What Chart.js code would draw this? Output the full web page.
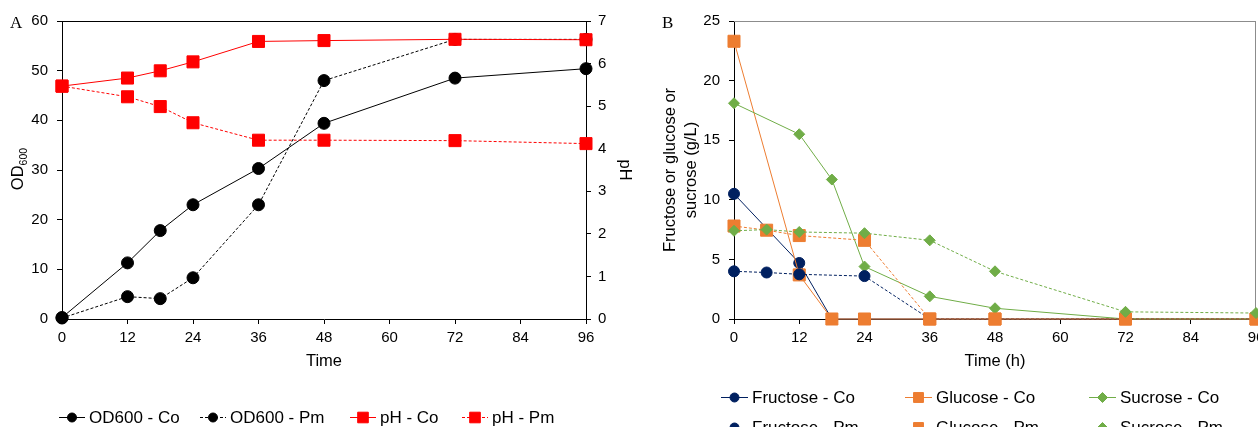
<!DOCTYPE html>
<html>
<head>
<meta charset="utf-8">
<script src="https://cdn.jsdelivr.net/npm/chart.js@4.4.1/dist/chart.umd.min.js"></script>
<style>
  html, body { margin: 0; padding: 0; background: #fff; overflow: hidden; width: 1258px; height: 427px; }
  canvas { position: absolute; top: 0; }
</style>
</head>
<body>
<canvas id="chartA" width="640" height="427" style="left:0"></canvas>
<canvas id="chartB" width="640" height="427" style="left:640px"></canvas>
<script>
// panel A: growth and pH
const timesA = [0, 12, 18, 24, 36, 48, 72, 96];
const odCo = [0.3, 11.3, 17.8, 23.0, 30.3, 39.4, 48.5, 50.4];
const odPm = [0.2, 4.5, 4.1, 8.3, 23.0, 48.0, 56.3, 56.3];
const phCo = [5.47, 5.66, 5.83, 6.04, 6.52, 6.54, 6.57, 6.56];
const phPm = [5.47, 5.22, 4.99, 4.61, 4.20, 4.20, 4.19, 4.12];

// panel B: sugars (g/L)
const timesCo = [0, 12, 18, 24, 36, 48, 72, 96];
const timesPm = [0, 6, 12, 24, 36, 48, 72, 96];
const fructoseCo = [10.5, 4.7, 0, 0, 0, 0, 0, 0];
const glucoseCo = [23.3, 3.7, 0, 0, 0, 0, 0, 0];
const sucroseCo = [18.1, 15.5, 11.7, 4.4, 1.9, 0.9, 0, 0];
const fructosePm = [4.0, 3.9, 3.75, 3.6, 0, 0, 0, 0];
const glucosePm = [7.8, 7.45, 7.0, 6.6, 0, 0, 0, 0];
const sucrosePm = [7.4, 7.5, 7.3, 7.2, 6.6, 4.0, 0.6, 0.5];

const xTicks = [0, 12, 24, 36, 48, 60, 72, 84, 96];

Chart.defaults.font.family = "'Liberation Sans', Arial, sans-serif";
Chart.defaults.color = '#000';

const pts = (xs, ys) => xs.map((x, i) => ({ x: x, y: ys[i] }));
const DASH = [3, 2];

function series(label, xs, ys, color, style, radius, dashed, axis, idx) {
  return {
    label: label,
    data: pts(xs, ys),
    yAxisID: axis,
    borderColor: color,
    backgroundColor: color,
    pointBackgroundColor: color,
    pointBorderColor: color,
    pointBorderWidth: 1,
    borderWidth: 1,
    borderDash: dashed ? DASH : [],
    pointStyle: style,
    pointRadius: radius,
    pointHoverRadius: radius,
    tension: 0,
    clip: false,
    order: -idx
  };
}

// top / right frame of the plot box
const framePlugin = {
  id: 'frame',
  beforeDatasetsDraw(chart, args, opts) {
    const { ctx, chartArea: a } = chart;
    ctx.save();
    ctx.strokeStyle = opts.color;
    ctx.lineWidth = 1;
    ctx.beginPath();
    ctx.moveTo(a.left, a.top + 0.5);
    ctx.lineTo(a.right, a.top + 0.5);
    if (opts.right) {
      ctx.moveTo(a.right - 0.5, a.top);
      ctx.lineTo(a.right - 0.5, a.bottom);
    }
    ctx.stroke();
    ctx.restore();
  }
};

// legend with line + marker like the office chart
const lineLegend = {
  id: 'lineLegend',
  afterDraw(chart, args, opts) {
    const ctx = chart.ctx;
    chart.data.datasets.forEach((ds, i) => {
      const p = opts.slots[i];
      if (!p) return;
      ctx.save();
      ctx.strokeStyle = ds.borderColor;
      ctx.lineWidth = 1;
      ctx.setLineDash(ds.borderDash);
      ctx.beginPath();
      ctx.moveTo(p[0], p[1] + 0.5);
      ctx.lineTo(p[0] + opts.lineLen, p[1] + 0.5);
      ctx.stroke();
      ctx.setLineDash([]);
      ctx.fillStyle = ds.pointBackgroundColor;
      ctx.strokeStyle = ds.pointBorderColor;
      Chart.helpers.drawPoint(ctx, {
        pointStyle: ds.pointStyle, rotation: 0, borderWidth: 1,
        radius: opts.radius[ds.pointStyle]
      }, p[0] + opts.lineLen / 2, p[1] + 0.5);
      ctx.fillStyle = '#000';
      ctx.font = opts.font;
      ctx.textBaseline = 'middle';
      ctx.textAlign = 'left';
      ctx.fillText(ds.label, p[0] + opts.lineLen + 4, p[1] + 1);
      ctx.restore();
    });
  }
};

// panel letter and the OD600 title with subscript
const extraText = {
  id: 'extraText',
  afterDraw(chart, args, opts) {
    const ctx = chart.ctx;
    ctx.save();
    ctx.fillStyle = '#000';
    ctx.font = "17px 'Liberation Serif', 'Times New Roman', serif";
    ctx.textBaseline = 'alphabetic';
    ctx.fillText(opts.letter[0], opts.letter[1], opts.letter[2]);
    if (opts.odTitle) {
      ctx.translate(opts.odTitle[0], opts.odTitle[1]);
      ctx.rotate(-Math.PI / 2);
      ctx.font = "16.5px 'Liberation Sans', Arial, sans-serif";
      const w1 = ctx.measureText('OD').width;
      ctx.font = "10.5px 'Liberation Sans', Arial, sans-serif";
      const w2 = ctx.measureText('600').width;
      const x0 = -(w1 + w2) / 2;
      ctx.font = "16.5px 'Liberation Sans', Arial, sans-serif";
      ctx.fillText('OD', x0, 6);
      ctx.font = "10.5px 'Liberation Sans', Arial, sans-serif";
      ctx.fillText('600', x0 + w1, 10);
    }
    ctx.restore();
  }
};

function xScale(title) {
  return {
    type: 'linear',
    min: 0, max: 96,
    afterBuildTicks: s => { s.ticks = xTicks.map(v => ({ value: v })); },
    afterFit: s => { s.height = 52; s.paddingLeft = 0; s.paddingRight = 0; },
    ticks: { font: { size: 15 }, padding: 5, maxRotation: 0, autoSkip: false },
    grid: { drawOnChartArea: false, drawTicks: true, tickLength: 5, color: '#000' },
    border: { display: true, color: '#000' },
    title: { display: true, text: title, font: { size: 16.5 }, padding: { top: 0, bottom: 0 } }
  };
}

new Chart(document.getElementById('chartA'), {
  type: 'line',
  data: {
    datasets: [
      series('OD600 - Co', timesA, odCo, '#000000', 'circle', 6, false, 'y', 0),
      series('OD600 - Pm', timesA, odPm, '#000000', 'circle', 6, true, 'y', 1),
      series('pH - Co', timesA, phCo, '#ff0000', 'rect', 8.5, false, 'y2', 2),
      series('pH - Pm', timesA, phPm, '#ff0000', 'rect', 8.5, true, 'y2', 3)
    ]
  },
  options: {
    responsive: false,
    animation: false,
    layout: { padding: { top: 21, bottom: 56, left: 0, right: 0 } },
    plugins: {
      legend: { display: false },
      tooltip: { enabled: false },
      frame: { color: '#000', right: false },
      lineLegend: {
        slots: [[59, 417], [200, 417], [350, 417], [462, 417]],
        lineLen: 26,
        radius: { circle: 4.5, rect: 7.5 },
        font: "17px 'Liberation Sans', Arial, sans-serif"
      },
      extraText: { letter: ['A', 10, 28], odTitle: [17, 169] }
    },
    scales: {
      x: xScale('Time'),
      y: {
        position: 'left',
        min: 0, max: 60,
        afterFit: s => { s.width = 62; },
        ticks: { stepSize: 10, font: { size: 15 }, padding: 9 },
        grid: { drawOnChartArea: false, drawTicks: true, tickLength: 5, color: '#000' },
        border: { display: true, color: '#000' }
      },
      y2: {
        position: 'right',
        min: 0, max: 7,
        afterFit: s => { s.width = 54; },
        ticks: { stepSize: 1, font: { size: 15 }, padding: 7 },
        grid: { drawOnChartArea: false, drawTicks: true, tickLength: 5, color: '#000' },
        border: { display: true, color: '#000' },
        title: { display: true, text: 'pH', font: { size: 16.5 }, padding: { top: 6, bottom: 0 } }
      }
    }
  },
  plugins: [framePlugin, lineLegend, extraText]
});

const NAVY = '#002060', ORANGE = '#ed7d31', GREEN = '#70ad47';

new Chart(document.getElementById('chartB'), {
  type: 'line',
  data: {
    datasets: [
      series('Fructose - Co', timesCo, fructoseCo, NAVY, 'circle', 5.5, false, 'y', 0),
      series('Glucose - Co', timesCo, glucoseCo, ORANGE, 'rect', 8.5, false, 'y', 1),
      series('Sucrose - Co', timesCo, sucroseCo, GREEN, 'rectRot', 5.5, false, 'y', 2),
      series('Fructose - Pm', timesPm, fructosePm, NAVY, 'circle', 5.5, true, 'y', 3),
      series('Glucose - Pm', timesPm, glucosePm, ORANGE, 'rect', 8.5, true, 'y', 4),
      series('Sucrose - Pm', timesPm, sucrosePm, GREEN, 'rectRot', 5.5, true, 'y', 5)
    ]
  },
  options: {
    responsive: false,
    animation: false,
    layout: { padding: { top: 21, bottom: 56, left: 0, right: 24 } },
    plugins: {
      legend: { display: false },
      tooltip: { enabled: false },
      frame: { color: '#8c8c8c', right: true },
      lineLegend: {
        slots: [[81, 397], [265, 397], [449, 397], [81, 427], [265, 427], [449, 427]],
        lineLen: 27,
        radius: { circle: 4.5, rect: 7, rectRot: 5 },
        font: "17px 'Liberation Sans', Arial, sans-serif"
      },
      extraText: { letter: ['B', 22, 28] }
    },
    scales: {
      x: xScale('Time (h)'),
      y: {
        position: 'left',
        min: 0, max: 25,
        afterFit: s => { s.width = 94; },
        ticks: { stepSize: 5, font: { size: 15 }, padding: 9 },
        grid: { drawOnChartArea: false, drawTicks: true, tickLength: 5, color: '#000' },
        border: { display: true, color: '#000' },
        title: {
          display: true,
          text: ['Fructose or glucose or', 'sucrose (g/L)'],
          font: { size: 16.5, lineHeight: 1.33 },
          padding: { top: 19, bottom: 0 }
        }
      }
    }
  },
  plugins: [framePlugin, lineLegend, extraText]
});
</script>
</body>
</html>
